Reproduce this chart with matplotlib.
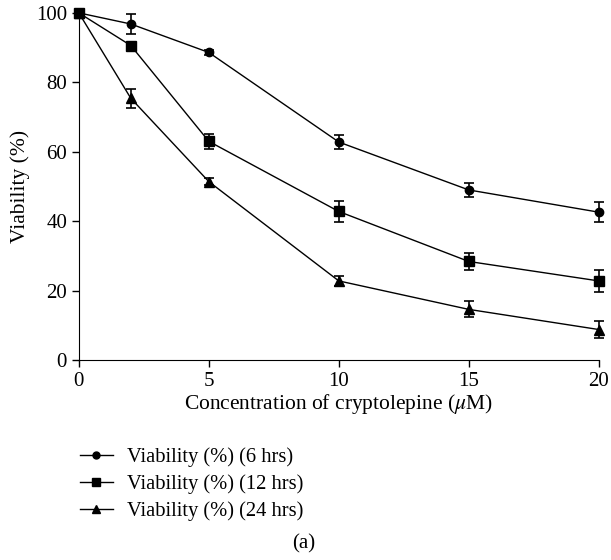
import matplotlib
matplotlib.use("Agg")
import matplotlib.pyplot as plt
from matplotlib.lines import Line2D

# Cell viability after cryptolepine treatment at three exposure times
concentration = [0, 2, 5, 10, 15, 20]

viability_6h = [100, 96.8, 88.6, 62.8, 49.0, 42.6]
error_6h = [0, 3.0, 0.8, 2.0, 2.0, 2.8]

viability_12h = [100, 90.6, 63.0, 42.8, 28.4, 22.8]
error_12h = [0, 0, 2.2, 3.0, 2.5, 3.2]

viability_24h = [100, 75.4, 51.4, 22.8, 14.6, 8.8]
error_24h = [0, 2.8, 1.0, 1.5, 2.3, 2.5]

labels = ["Viability (%) (6 hrs)", "Viability (%) (12 hrs)", "Viability (%) (24 hrs)"]

plt.rcParams["font.family"] = ["Liberation Serif", "DejaVu Serif"]
plt.rcParams["mathtext.fontset"] = "stix"

fig = plt.figure(figsize=(6.11, 5.6), dpi=100)
ax = fig.add_axes([0.129, 0.357, 0.851, 0.620])

series = [
    (viability_6h, error_6h, "o", 6),
    (viability_12h, error_12h, "s", 6.5),
    (viability_24h, error_24h, "^", 7),
]
handles = []
for (vals, errs, mk, ms), lab in zip(series, labels):
    ax.errorbar(concentration, vals, yerr=errs, color="black", marker=mk,
                markersize=ms, linewidth=1, elinewidth=1.2, capsize=3.5,
                capthick=1.2, clip_on=False, zorder=3)
    handles.append(Line2D([], [], color="black", marker=mk, markersize=ms - 1,
                          linewidth=1, label=lab))

ax.set_xlim(0, 20)
ax.set_ylim(0, 100)
ax.set_xticks([0, 5, 10, 15, 20])
ax.set_yticks([0, 20, 40, 60, 80, 100])
ax.spines["top"].set_visible(False)
ax.spines["right"].set_visible(False)
ax.tick_params(direction="out", length=5, labelsize=15, width=1)
ax.set_xlabel(r"Concentration of cryptolepine ($\mu$M)", fontsize=15.5, labelpad=1)
ax.set_ylabel("Viability (%)", fontsize=15.5, labelpad=4)

fig.legend(handles=handles, loc="upper left", bbox_to_anchor=(0.114, 0.22),
           frameon=False, fontsize=14.8, handlelength=1.6, labelspacing=0.36,
           handletextpad=0.7, borderpad=0)

fig.text(0.497, 0.028, "(a)", ha="center", va="center", fontsize=15)

fig.savefig("out.png", dpi=100)
